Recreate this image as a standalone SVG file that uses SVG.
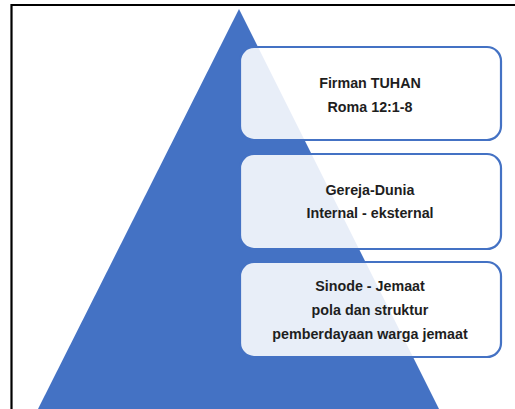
<svg xmlns="http://www.w3.org/2000/svg" width="515" height="409" viewBox="0 0 515 409">
<style>
.box{fill:#ffffff;fill-opacity:0.88;stroke:#4472C4;stroke-width:2.2}
.t{font-family:"Liberation Sans",Arial,sans-serif;font-size:14.3px;font-weight:bold;fill:#1e1e1e;text-anchor:middle}
</style>
<rect x="0" y="0" width="515" height="409" fill="#ffffff"/>
<path d="M11.5 409 V5 H515" fill="none" stroke="#000000" stroke-width="2.2"/>
<g id="pyramid">
<polygon points="239,9 439,409 38,409" fill="#4472C4"/>
</g>
<g id="connectors"></g>
<g id="node1">
<rect class="box" x="240" y="47" width="261" height="93" rx="14"/>
<text class="t" x="370" y="87.5">Firman TUHAN</text>
<text class="t" x="370" y="111.5">Roma 12:1-8</text>
</g>
<g id="node2">
<rect class="box" x="240" y="154" width="261" height="95" rx="14"/>
<text class="t" x="370" y="195">Gereja-Dunia</text>
<text class="t" x="370" y="218">Internal - eksternal</text>
</g>
<g id="node3">
<rect class="box" x="240" y="262" width="261" height="95" rx="14"/>
<text class="t" x="370" y="291">Sinode - Jemaat</text>
<text class="t" x="370" y="315">pola dan struktur</text>
<text class="t" x="370" y="339">pemberdayaan warga jemaat</text>
</g>
</svg>
